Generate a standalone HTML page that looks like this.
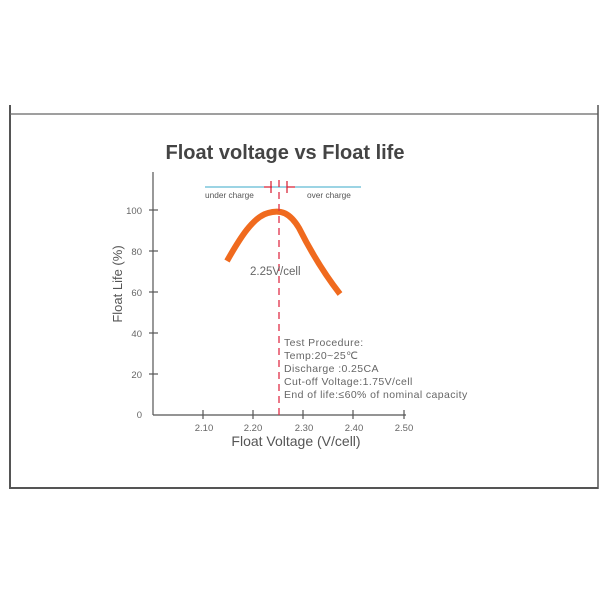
<!DOCTYPE html>
<html><head><style>
body{margin:0;background:#fff;}
svg text{font-family:"Liberation Sans",sans-serif;}
</style></head><body>
<svg width="600" height="600" viewBox="0 0 600 600" xmlns="http://www.w3.org/2000/svg">
<rect width="600" height="600" fill="#fff"/>
<line x1="10" y1="105" x2="10" y2="489" stroke="#555" stroke-width="2"/>
<line x1="10" y1="114" x2="598" y2="114" stroke="#666" stroke-width="1.2"/>
<line x1="10" y1="488" x2="598" y2="488" stroke="#555" stroke-width="2"/>
<line x1="598" y1="105" x2="598" y2="489" stroke="#555" stroke-width="1.5"/>
<text x="285" y="159" text-anchor="middle" font-size="20" font-weight="bold" fill="#444">Float voltage vs Float life</text>
<g stroke="#555" stroke-width="1.2">
<line x1="153" y1="172" x2="153" y2="415"/>
<line x1="153" y1="415" x2="406" y2="415"/>
<line x1="149" y1="210" x2="158" y2="210"/>
<line x1="149" y1="251" x2="158" y2="251"/>
<line x1="149" y1="292" x2="158" y2="292"/>
<line x1="149" y1="333" x2="158" y2="333"/>
<line x1="149" y1="374" x2="158" y2="374"/>
<line x1="203" y1="410" x2="203" y2="419"/>
<line x1="253" y1="410" x2="253" y2="419"/>
<line x1="303" y1="410" x2="303" y2="419"/>
<line x1="353" y1="410" x2="353" y2="419"/>
<line x1="404" y1="410" x2="404" y2="419"/>
</g>
<g font-size="9.5" fill="#666" text-anchor="end">
<text x="142" y="214">100</text><text x="142" y="255">80</text><text x="142" y="296">60</text>
<text x="142" y="337">40</text><text x="142" y="378">20</text><text x="142" y="418">0</text>
</g>
<g font-size="9.5" fill="#666" text-anchor="middle">
<text x="204" y="431">2.10</text><text x="253" y="431">2.20</text><text x="304" y="431">2.30</text>
<text x="354" y="431">2.40</text><text x="404" y="431">2.50</text>
</g>
<text x="296" y="446" text-anchor="middle" font-size="14" fill="#555">Float Voltage (V/cell)</text>
<text transform="translate(122,284) rotate(-90)" text-anchor="middle" font-size="13" fill="#555">Float Life (%)</text>
<line x1="205" y1="187" x2="361" y2="187" stroke="#3aa8c8" stroke-width="1"/>
<g stroke="#d8283c" stroke-width="1.3">
<line x1="264" y1="187" x2="272" y2="187"/><line x1="271" y1="181" x2="271" y2="193"/>
<line x1="287" y1="181" x2="287" y2="193"/><line x1="287" y1="187" x2="295" y2="187"/>
</g>
<text x="205" y="198" font-size="8.3" fill="#555">under charge</text>
<text x="307" y="198" font-size="8.3" fill="#555">over charge</text>
<path d="M227,261 C240,238 253,217 268,213 C281,209 290,213 299,228 C311,252 326,276 340,294" fill="none" stroke="#f06a1e" stroke-width="6"/>
<line x1="279" y1="180" x2="279" y2="415" stroke="#e03048" stroke-width="1.3" stroke-dasharray="7,5"/>
<text x="250" y="275" font-size="11.5" fill="#666">2.25V/cell</text>
<g font-size="10.5" fill="#666" letter-spacing="0.4">
<text x="284" y="346">Test Procedure:</text>
<text x="284" y="359">Temp:20~25℃</text>
<text x="284" y="372">Discharge :0.25CA</text>
<text x="284" y="385">Cut-off Voltage:1.75V/cell</text>
<text x="284" y="398">End of life:≤60% of nominal capacity</text>
</g>
</svg>
</body></html>
